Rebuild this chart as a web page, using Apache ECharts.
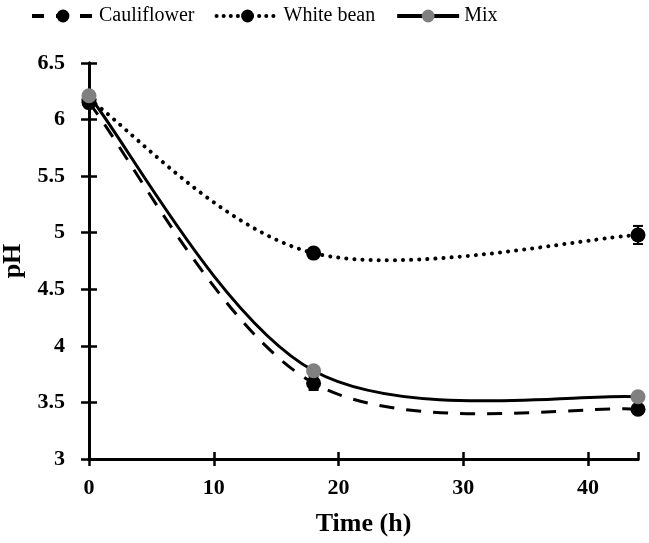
<!DOCTYPE html>
<html>
<head>
<meta charset="utf-8">
<script src="https://cdn.jsdelivr.net/npm/echarts@6/dist/echarts.min.js"></script>
<style>
  html, body { margin: 0; padding: 0; background: #fff; }
  #chart { width: 649px; height: 543px; }
</style>
</head>
<body>
<div id="chart"></div>
<script>
const times = [0, 18, 44];
const cauliflower = [6.15, 3.67, 3.44];
const whiteBean = [6.18, 4.82, 4.98];
const mix = [6.21, 3.78, 3.55];
const cauliflowerErr = [0.03, 0.06, 0.03];
const whiteBeanErr = [0.03, 0.03, 0.08];
const mixErr = [0.03, 0.03, 0.03];
const xTicks = ["0", "10", "20", "30", "40"];
const yTicks = ["3", "3.5", "4", "4.5", "5", "5.5", "6", "6.5"];

const FONT = "Liberation Serif";

function pairs(vals) {
  return times.map((t, i) => [t, vals[i]]);
}

// error bars: vertical line with small caps
function errorBars(vals, errs) {
  return {
    type: "custom",
    data: times.map((t, i) => [t, vals[i] - errs[i], vals[i] + errs[i]]),
    encode: { x: 0, y: [1, 2] },
    z: 1,
    silent: true,
    renderItem: function (params, api) {
      const lo = api.coord([api.value(0), api.value(1)]);
      const hi = api.coord([api.value(0), api.value(2)]);
      const w = 5;
      const style = { stroke: "#000", lineWidth: 2 };
      return {
        type: "group",
        children: [
          { type: "line", shape: { x1: lo[0], y1: lo[1], x2: hi[0], y2: hi[1] }, style },
          { type: "line", shape: { x1: lo[0] - w, y1: lo[1], x2: lo[0] + w, y2: lo[1] }, style },
          { type: "line", shape: { x1: hi[0] - w, y1: hi[1], x2: hi[0] + w, y2: hi[1] }, style },
        ],
      };
    },
  };
}

// spreadsheet-style smoothed curve (catmull-rom as cubic bezier)
function smoothCurve(vals, style) {
  return {
    type: "custom",
    data: pairs(vals),
    encode: { x: 0, y: 1 },
    z: 2,
    silent: true,
    renderItem: function (params, api) {
      if (params.dataIndex !== 0) return null;
      const p = pairs(vals).map((d) => api.coord(d));
      const n = p.length;
      let d = "M" + p[0][0] + " " + p[0][1];
      for (let i = 0; i < n - 1; i++) {
        const p0 = p[Math.max(i - 1, 0)];
        const p1 = p[i];
        const p2 = p[i + 1];
        const p3 = p[Math.min(i + 2, n - 1)];
        const c1x = p1[0] + (p2[0] - p0[0]) / 6;
        const c1y = p1[1] + (p2[1] - p0[1]) / 6;
        const c2x = p2[0] - (p3[0] - p1[0]) / 6;
        const c2y = p2[1] - (p3[1] - p1[1]) / 6;
        d += " C" + c1x + " " + c1y + " " + c2x + " " + c2y + " " + p2[0] + " " + p2[1];
      }
      return {
        type: "path",
        shape: { pathData: d },
        style: Object.assign({ fill: null, stroke: "#000" }, style),
      };
    },
  };
}

function markers(name, vals, color, z) {
  return {
    name: name,
    type: "line",
    data: pairs(vals),
    symbol: "circle",
    symbolSize: 15,
    z: z,
    itemStyle: { color: color },
    lineStyle: { opacity: 0 },
  };
}

const chart = echarts.init(document.getElementById("chart"));

const axisLine = { show: true, lineStyle: { color: "#000", width: 3 } };
const tickStyle = { color: "#000", width: 2.5 };
const labelFont = { fontFamily: FONT, fontSize: 22, fontWeight: "bold", color: "#000" };
const nameFont = { fontFamily: FONT, fontSize: 26, fontWeight: "bold", color: "#000" };

const xBase = { type: "value", min: 0, max: 44, interval: 10, splitLine: { show: false }, axisLine };
const yBase = { type: "value", min: 3, max: 6.5, interval: 0.5, splitLine: { show: false }, axisLine };

chart.setOption({
  animation: false,
  backgroundColor: "#fff",
  textStyle: { fontFamily: FONT },
  legend: {
    top: 1,
    left: 25,
    itemWidth: 62,
    itemHeight: 16,
    itemGap: 20,
    textStyle: { fontFamily: FONT, fontSize: 20, color: "#000" },
    data: [
      { name: "Cauliflower", lineStyle: { opacity: 1, color: "#000", width: 4, type: [12, 12] } },
      { name: "White bean", lineStyle: { opacity: 1, color: "#000", width: 4, type: [0.1, 7], cap: "round" } },
      { name: "Mix", lineStyle: { opacity: 1, color: "#000", width: 4 } },
    ],
  },
  grid: { left: 89, right: 11, top: 63, bottom: 84, containLabel: false, outerBoundsMode: "none" },
  xAxis: [
    Object.assign({}, xBase, {
      name: "Time (h)",
      nameLocation: "middle",
      nameGap: 52,
      nameTextStyle: nameFont,
      axisTick: { show: true, length: 7, lineStyle: tickStyle },
      axisLabel: Object.assign({}, labelFont, {
        margin: 18,
        showMaxLabel: false,
        formatter: (v) => (v % 10 === 0 ? xTicks[v / 10] : ""),
      }),
    }),
    Object.assign({}, xBase, {
      position: "bottom",
      axisTick: { show: true, inside: true, length: 7, lineStyle: tickStyle },
      axisLabel: { show: false },
    }),
  ],
  yAxis: [
    Object.assign({}, yBase, {
      name: "pH",
      nameLocation: "middle",
      nameGap: 57,
      nameTextStyle: nameFont,
      axisTick: { show: true, length: 8, lineStyle: tickStyle },
      axisLabel: Object.assign({}, labelFont, {
        margin: 24,
        formatter: (v) => yTicks[Math.round((v - 3) / 0.5)],
      }),
    }),
    Object.assign({}, yBase, {
      position: "left",
      axisTick: { show: true, inside: true, length: 8, lineStyle: tickStyle },
      axisLabel: { show: false },
    }),
  ],
  series: [
    smoothCurve(cauliflower, { lineWidth: 3, lineDash: [15, 12] }),
    smoothCurve(whiteBean, { lineWidth: 4, lineDash: [0.1, 8], lineCap: "round" }),
    smoothCurve(mix, { lineWidth: 3 }),
    errorBars(cauliflower, cauliflowerErr),
    errorBars(whiteBean, whiteBeanErr),
    errorBars(mix, mixErr),
    markers("Cauliflower", cauliflower, "#000", 3),
    markers("White bean", whiteBean, "#000", 3),
    markers("Mix", mix, "#808080", 4),
  ],
});
</script>
</body>
</html>
